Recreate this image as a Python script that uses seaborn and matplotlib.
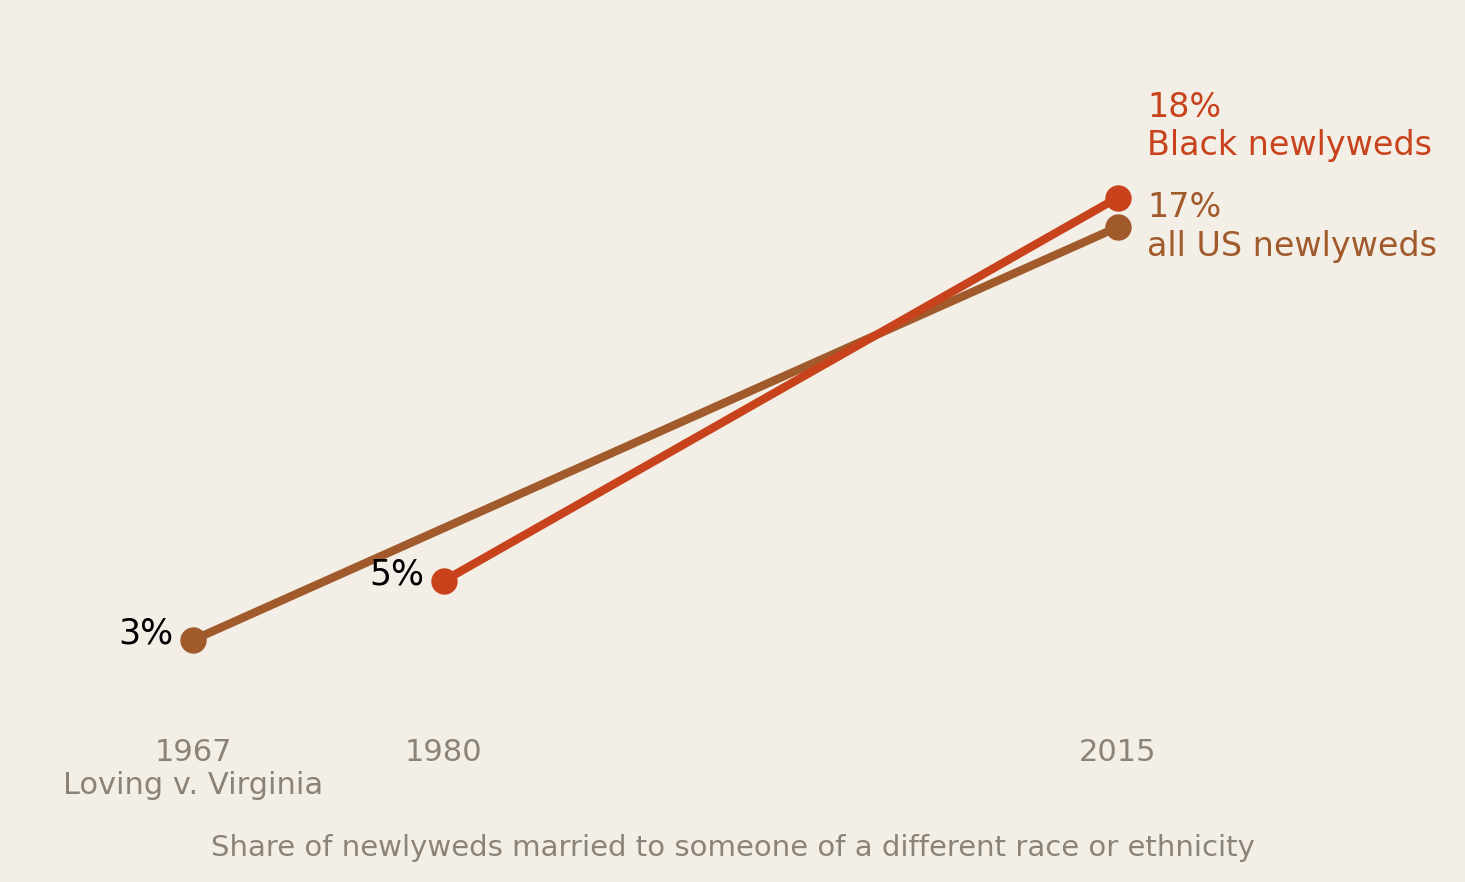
import matplotlib
matplotlib.use("Agg")
import matplotlib.pyplot as plt
import seaborn as sns
import pandas as pd

# data
all_years = [1967, 2015]
all_share = [3, 17]
black_years = [1980, 2015]
black_share = [5, 18]
tick_years = [1967, 1980, 2015]
tick_labels = ["1967\nLoving v. Virginia", "1980", "2015"]

BG = "#F3EFE7"
RED = "#C8431C"
BROWN = "#A05A2C"
GRAY = "#8B8375"

df = pd.concat([
    pd.DataFrame({"year": all_years, "share": all_share, "group": "all"}),
    pd.DataFrame({"year": black_years, "share": black_share, "group": "black"}),
])

sns.set_style("white")
plt.rcParams["font.family"] = ["DejaVu Sans"]

fig = plt.figure(figsize=(14.65, 8.82), dpi=100, facecolor=BG)
ax = fig.add_axes([0, (882 - 735) / 882, 1, 735 / 882])
ax.set_facecolor(BG)

sns.lineplot(data=df, x="year", y="share", hue="group", hue_order=["all", "black"],
             palette={"all": BROWN, "black": RED}, marker="o", markersize=19,
             markeredgewidth=0, linewidth=6, legend=False, ax=ax)

ax.set_xlim(1956.98, 2033.01)
ax.set_ylim(3 - (735 - 640) / 29.5, 3 + 640 / 29.5)

# start labels
for yr, v in [(all_years[0], all_share[0]), (black_years[0], black_share[0])]:
    ax.annotate(f"{v}%", (yr, v), xytext=(-14, 5), textcoords="offset points",
                ha="right", va="center", fontsize=25, color="black")

# end labels
ax.annotate(f"{black_share[-1]}%\nBlack newlyweds", (black_years[-1], black_share[-1]),
            xytext=(21, 51), textcoords="offset points", ha="left", va="center",
            fontsize=24, color=RED)
ax.annotate(f"{all_share[-1]}%\nall US newlyweds", (all_years[-1], all_share[-1]),
            xytext=(21, 0), textcoords="offset points", ha="left", va="center",
            fontsize=24, color=BROWN)

ax.set_xticks(tick_years)
ax.set_xticklabels(tick_labels, fontsize=22, color=GRAY)
ax.tick_params(axis="x", length=0, pad=2)
ax.set_yticks([])
ax.set_ylabel("")
ax.set_xlabel("Share of newlyweds married to someone of a different race or ethnicity",
              fontsize=21, color=GRAY, labelpad=24)
for s in ax.spines.values():
    s.set_visible(False)

fig.savefig("out.png", dpi=100, facecolor=BG)
